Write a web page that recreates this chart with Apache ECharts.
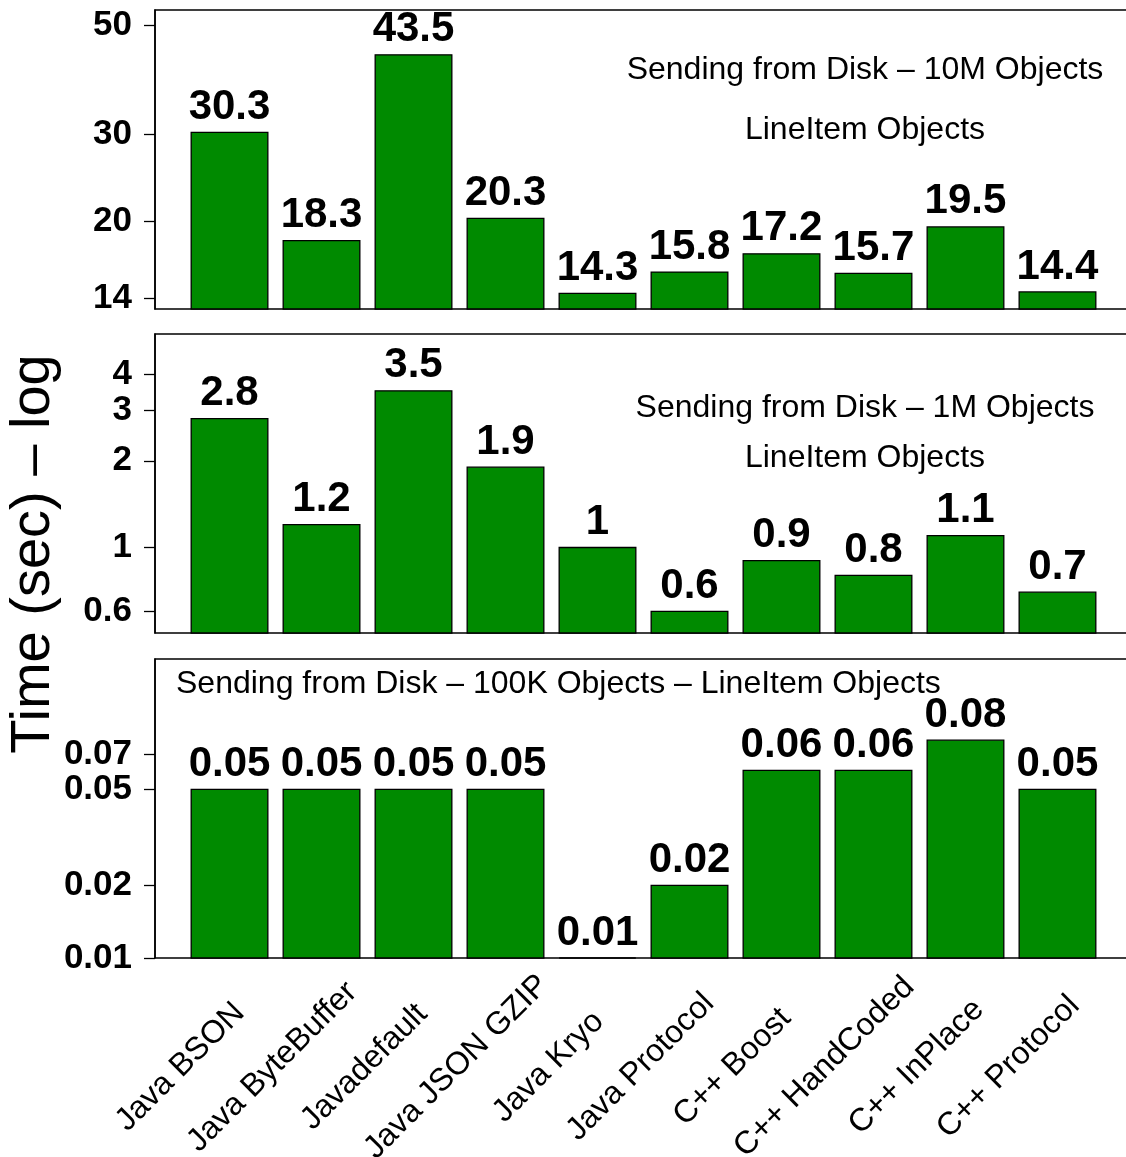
<!DOCTYPE html>
<html>
<head>
<meta charset="utf-8">
<script src="https://cdn.jsdelivr.net/npm/echarts@6/dist/echarts.min.js"></script>
<style>
  html, body { margin: 0; padding: 0; background: #ffffff; }
  #chart { width: 1126px; height: 1157px; }
</style>
</head>
<body>
<div id="chart"></div>
<script>
// Serializer benchmark: time to send LineItem objects from disk (seconds, log scale)
const categories = [
  'Java BSON', 'Java ByteBuffer', 'Javadefault', 'Java JSON GZIP', 'Java Kryo',
  'Java Protocol', 'C++ Boost', 'C++ HandCoded', 'C++ InPlace', 'C++ Protocol'
];
const time10M  = [30.3, 18.3, 43.5, 20.3, 14.3, 15.8, 17.2, 15.7, 19.5, 14.4];
const time1M   = [2.8, 1.2, 3.5, 1.9, 1, 0.6, 0.9, 0.8, 1.1, 0.7];
const time100K = [0.05, 0.05, 0.05, 0.05, 0.01, 0.02, 0.06, 0.06, 0.08, 0.05];

const ticks10M  = [14, 20, 30, 50];
const ticks1M   = [0.6, 1, 2, 3, 4];
const ticks100K = [0.01, 0.02, 0.05, 0.07];

const FONT = "'Liberation Sans', Arial, Helvetica, sans-serif";
const GREEN = '#008a00';
const BAR_WIDTH = 1 / 1.2;     // bar width in category units (space = 0.2)
const LABEL_GAP = 25;          // value label middle above bar top (px)
const LABEL_SHIFT = -0.533;    // rotated category labels are centred below-left of each bar

const panels = [
  { values: time10M,  ticks: ticks10M,  min: 13.3,  max: 53.6,   top: 10  },
  { values: time1M,   ticks: ticks1M,   min: 0.505, max: 5.51,   top: 334 },
  { values: time100K, ticks: ticks100K, min: 0.01,  max: 0.1736, top: 659 }
];

function renderBar(params, api) {
  const idx = api.value(0);
  const v = api.value(1);
  const topPt = api.coord([idx, v]);
  const w = api.size([BAR_WIDTH, 0], [idx, v])[0];
  const cs = params.coordSys;
  const base = cs.y + cs.height;
  return {
    type: 'group',
    children: [
      {
        type: 'rect',
        shape: { x: topPt[0] - w / 2, y: topPt[1], width: w, height: base - topPt[1] },
        style: { fill: GREEN, stroke: '#000', lineWidth: 1.3 }
      },
      {
        type: 'text',
        x: topPt[0],
        y: topPt[1] - LABEL_GAP,
        style: {
          text: String(v),
          fill: '#000',
          font: 'bold 42px ' + FONT,
          align: 'center',
          verticalAlign: 'middle'
        }
      }
    ]
  };
}

const grids = [], xAxes = [], yAxes = [], series = [];
panels.forEach((p, k) => {
  grids.push({
    left: 155, top: p.top, width: 977, height: 299,
    show: true, borderColor: '#000', borderWidth: 1.5,
    backgroundColor: 'transparent',
    containLabel: false, outerBoundsMode: 'none'
  });
  const isBottom = k === panels.length - 1;
  xAxes.push({
    type: 'value', gridIndex: k, min: -0.81, max: 9.81,
    axisLine: { show: false, onZero: false }, axisTick: { show: false }, splitLine: { show: false },
    axisLabel: isBottom ? {
      show: true, hideOverlap: false,
      customValues: categories.map((_, i) => i + LABEL_SHIFT),
      formatter: v => categories[Math.round(v - LABEL_SHIFT)],
      rotate: 45, margin: 109, align: 'center', verticalAlign: 'middle',
      fontSize: 32, fontFamily: FONT, color: '#000'
    } : { show: false }
  });
  yAxes.push({
    type: 'log', logBase: 10, gridIndex: k, min: p.min, max: p.max,
    axisLine: { show: true, onZero: false, lineStyle: { color: '#000', width: 1.5 } },
    axisTick: { show: true, length: 11, customValues: p.ticks, lineStyle: { color: '#000', width: 1.3 } },
    axisLabel: {
      customValues: p.ticks, formatter: v => String(v), hideOverlap: false,
      fontSize: 35, fontWeight: 'bold', fontFamily: FONT, color: '#000', margin: 23,
      lineHeight: 30
    },
    splitLine: { show: false }
  });
  series.push({
    type: 'custom', coordinateSystem: 'cartesian2d',
    xAxisIndex: k, yAxisIndex: k,
    data: p.values.map((v, i) => [i, v]),
    renderItem: renderBar,
    clip: false, silent: true
  });
});

function note(text, x, y, align) {
  return {
    type: 'text', x: x, y: y,
    style: { text: text, font: '32px ' + FONT, fill: '#000', align: align || 'center', verticalAlign: 'middle' }
  };
}

const chart = echarts.init(document.getElementById('chart'), null, { renderer: 'canvas' });
chart.setOption({
  animation: false,
  backgroundColor: '#ffffff',
  grid: grids,
  xAxis: xAxes,
  yAxis: yAxes,
  series: series,
  graphic: [
    {
      type: 'text', x: 34, y: 554, rotation: Math.PI / 2,
      style: { text: 'Time (sec) – log', font: '56px ' + FONT, fill: '#000', align: 'center', verticalAlign: 'middle' }
    },
    note('Sending from Disk – 10M Objects', 865, 70),
    note('LineItem Objects', 865, 130),
    note('Sending from Disk – 1M Objects', 865, 408),
    note('LineItem Objects', 865, 458),
    note('Sending from Disk – 100K Objects – LineItem Objects', 176, 684, 'left')
  ]
});
</script>
</body>
</html>
